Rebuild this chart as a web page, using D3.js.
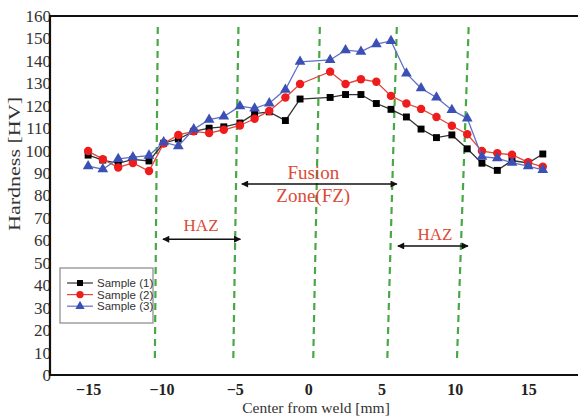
<!DOCTYPE html>
<html>
<head>
<meta charset="utf-8">
<script src="https://cdn.jsdelivr.net/npm/d3@7/dist/d3.min.js"></script>
<style>
  html, body { margin: 0; padding: 0; background: #fff; }
  svg { display: block; }
</style>
</head>
<body>
<svg id="chart" width="578" height="417"></svg>
<script>
// Measurement positions along the weld (mm) and hardness readings (HV)
const positions = [-15, -14, -12.95, -11.95, -10.85, -9.85, -8.85, -7.8, -6.75, -5.75,
  -4.65, -3.65, -2.65, -1.55, -0.55, 1.5, 2.55, 3.6, 4.65, 5.65,
  6.7, 7.7, 8.75, 9.8, 10.85, 11.85, 12.9, 13.9, 15, 16];
const sample1 = [98.0, 95.8, 94.3, 96.1, 95.4, 103.3, 105.2, 108.6, 110.0, 110.6,
  112.3, 116.5, 117.3, 113.4, 123.0, 123.7, 125.0, 125.0, 121.0, 118.4,
  115.0, 109.6, 105.8, 107.0, 100.8, 94.4, 91.2, 95.6, 94.5, 98.5];
const sample2 = [99.8, 96.2, 92.5, 94.5, 90.9, 103.2, 107.0, 108.6, 107.8, 109.3,
  111.2, 114.2, 117.7, 123.7, 129.7, 135.2, 129.7, 131.8, 130.7, 124.4,
  121.0, 118.6, 115.0, 111.1, 107.3, 99.8, 98.8, 98.2, 94.8, 92.8];
const sample3 = [93.1, 91.7, 96.3, 97.1, 97.8, 103.8, 102.0, 109.5, 113.8, 115.2,
  119.8, 118.8, 121.1, 127.2, 139.6, 140.4, 144.8, 144.1, 147.5, 148.9,
  134.4, 127.8, 123.7, 118.1, 114.4, 97.3, 96.6, 94.6, 93.1, 91.4];
const seriesNames = ["Sample (1)", "Sample (2)", "Sample (3)"];

const xTicks = [-15, -10, -5, 0, 5, 10, 15];
const yTicks = [0, 10, 20, 30, 40, 50, 60, 70, 80, 90, 100, 110, 120, 130, 140, 150, 160];

// Zone boundaries (mm), at the upper and lower ends of each dashed marker
const zoneTopX = [-10.25, -4.75, 0.8, 6.05, 10.95];
const zoneBottomX = [-10.45, -5.1, 0.35, 5.4, 10.15];
const zoneHV = [7.6, 156];

// Zone annotations: arrow spans (mm) at a hardness level (HV)
const zoneLabels = ["HAZ", "Fusion Zone(FZ)", "HAZ"];
const zoneSpans = [[-9.9, -4.62], [-4.52, 6.05], [6.12, 10.9]];
const zoneArrowHV = [60.5, 85.1, 57.5];

const svg = d3.select("#chart");
const plotLeft = 50, plotRight = 578, plotTop = 16, plotBottom = 375;

const x = d3.scaleLinear().domain([-17.6, 18.4]).range([plotLeft, plotRight]);
const y = d3.scaleLinear().domain([0, 160]).range([plotBottom, plotTop]);

const serif = "'Liberation Serif', 'Times New Roman', serif";
const sans = "'Liberation Sans', Arial, sans-serif";
const annotColor = "#dc4a36";

// Dashed zone boundary markers
svg.append("g").selectAll("line")
  .data(zoneTopX.map((t, i) => ({ t, b: zoneBottomX[i] })))
  .join("line")
  .attr("x1", d => x(d.b)).attr("y1", y(zoneHV[0]))
  .attr("x2", d => x(d.t)).attr("y2", y(zoneHV[1]))
  .attr("stroke", "#49a845").attr("stroke-width", 2.2)
  .attr("stroke-dasharray", "7,5");

// Arrowhead marker
const defs = svg.append("defs");
defs.append("marker").attr("id", "arrow")
  .attr("viewBox", "0 0 10 10").attr("refX", 9).attr("refY", 5)
  .attr("markerWidth", 9).attr("markerHeight", 7)
  .attr("markerUnits", "userSpaceOnUse")
  .attr("orient", "auto-start-reverse")
  .append("path").attr("d", "M0,0 L10,5 L0,10 Z").attr("fill", "#111");

svg.append("g").selectAll("line")
  .data(zoneSpans.map((s, i) => ({ s, v: zoneArrowHV[i] })))
  .join("line")
  .attr("x1", d => x(d.s[0])).attr("x2", d => x(d.s[1]))
  .attr("y1", d => y(d.v)).attr("y2", d => y(d.v))
  .attr("stroke", "#111").attr("stroke-width", 1.6)
  .attr("marker-start", "url(#arrow)").attr("marker-end", "url(#arrow)");

// Zone text
const ann = svg.append("g").attr("fill", annotColor).attr("font-family", serif)
  .attr("text-anchor", "middle");
ann.append("text").attr("x", x(-7.3)).attr("y", y(zoneArrowHV[0]) - 8)
  .attr("font-size", 17).text(zoneLabels[0]);
ann.append("text").attr("x", x(0.35)).attr("y", y(zoneArrowHV[1]) - 5)
  .attr("font-size", 19).text(zoneLabels[1].split(" ")[0]);
ann.append("text").attr("x", x(0.35)).attr("y", y(zoneArrowHV[1]) + 18)
  .attr("font-size", 19).text(zoneLabels[1].split(" ")[1]);
ann.append("text").attr("x", x(8.65)).attr("y", y(zoneArrowHV[2]) - 6)
  .attr("font-size", 17).text(zoneLabels[2]);

// Series
const series = [
  { name: seriesNames[0], values: sample1, line: "#333", fill: "#000", shape: d3.symbolSquare, size: 48 },
  { name: seriesNames[1], values: sample2, line: "#e2463c", fill: "#ee1c1c", shape: d3.symbolCircle, size: 56 },
  { name: seriesNames[2], values: sample3, line: "#6070c4", fill: "#3c4fb4", shape: d3.symbolTriangle, size: 50 }
];

const lineGen = d3.line().x(d => x(d[0])).y(d => y(d[1]));

series.forEach(s => {
  const pts = positions.map((p, i) => [p, s.values[i]]);
  const g = svg.append("g");
  g.append("path").datum(pts).attr("d", lineGen)
    .attr("fill", "none").attr("stroke", s.line).attr("stroke-width", 1.3);
  g.selectAll("path.pt").data(pts).join("path").attr("class", "pt")
    .attr("transform", d => `translate(${x(d[0])},${y(d[1])})`)
    .attr("d", d3.symbol().type(s.shape).size(s.size))
    .attr("fill", s.fill);
});

// Axes
const xAxis = d3.axisBottom(x).tickValues(xTicks).tickSize(0).tickPadding(9)
  .tickFormat(d3.format("d"));
const gx = svg.append("g").attr("transform", `translate(0,${plotBottom})`).call(xAxis);
gx.select(".domain").remove();
gx.selectAll("text").attr("font-family", serif).attr("font-size", 16)
  .attr("font-weight", "bold").attr("fill", "#222");

const yAxis = d3.axisLeft(y).tickValues(yTicks).tickSize(0).tickPadding(-1);
const gy = svg.append("g").attr("transform", `translate(${plotLeft},0)`).call(yAxis);
gy.select(".domain").remove();
gy.selectAll("text").attr("font-family", serif).attr("font-size", 17)
  .attr("fill", "#333");

// Frame
svg.append("path")
  .attr("d", `M${plotRight},${plotTop} H${plotLeft} V${plotBottom} H${plotRight}`)
  .attr("fill", "none").attr("stroke", "#111").attr("stroke-width", 2.2);

// Axis titles
svg.append("text").attr("x", (plotLeft + plotRight) / 2 + 2).attr("y", 413)
  .attr("text-anchor", "middle").attr("font-family", serif).attr("font-size", 15.5)
  .attr("fill", "#333").text("Center from weld [mm]");
svg.append("text").attr("transform", "translate(20,164) rotate(-90)")
  .attr("text-anchor", "middle").attr("font-family", serif).attr("font-size", 16)
  .attr("textLength", 134).attr("lengthAdjust", "spacingAndGlyphs")
  .attr("fill", "#333").text("Hardness [HV]");

// Legend
const lg = svg.append("g").attr("transform", "translate(60,268)");
lg.append("rect").attr("width", 93).attr("height", 55)
  .attr("fill", "#fff").attr("stroke", "#888").attr("stroke-width", 1.2);
series.forEach((s, i) => {
  const yy = 15 + i * 11.6;
  lg.append("line").attr("x1", 7).attr("x2", 33).attr("y1", yy).attr("y2", yy)
    .attr("stroke", s.line).attr("stroke-width", 1.2);
  lg.append("path").attr("transform", `translate(20,${yy})`)
    .attr("d", d3.symbol().type(s.shape).size(s.size * 0.75)).attr("fill", s.fill);
  lg.append("text").attr("x", 37).attr("y", yy + 4).attr("font-family", sans)
    .attr("font-size", 11.5).attr("fill", "#333").text(s.name);
});
</script>
</body>
</html>
